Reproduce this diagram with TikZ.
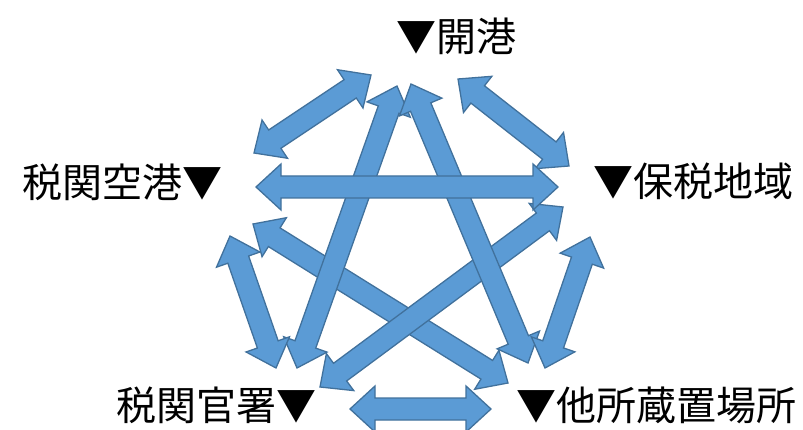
\documentclass[tikz,border=0pt]{standalone}
\usepackage{fontspec}
\newfontfamily\jp{Noto Sans CJK JP}
\usetikzlibrary{calc}
\definecolor{arrfill}{HTML}{5B9BD5}
\definecolor{arrline}{HTML}{41719C}
\tikzset{
  arr/.style={fill=arrfill, draw=arrline, line width=1.3pt, line join=miter},
  lbl/.style={font=\jp\fontsize{40}{48}\selectfont, inner sep=0pt, anchor=center}
}
% double-headed block arrow between two named coordinates
\newcommand\blockarrow[2]{%
  \coordinate (ha) at ($(#1)!25pt!(#2)$);
  \coordinate (hb) at ($(#2)!25pt!(#1)$);
  \draw[arr] (#1) -- ($(ha)!23pt!90:(#2)$) -- ($(ha)!11pt!90:(#2)$)
    -- ($(hb)!11pt!-90:(#1)$) -- ($(hb)!23pt!-90:(#1)$) -- (#2)
    -- ($(hb)!23pt!90:(#1)$) -- ($(hb)!11pt!90:(#1)$)
    -- ($(ha)!11pt!-90:(#2)$) -- ($(ha)!23pt!-90:(#2)$) -- cycle;
}
\begin{document}
\begin{tikzpicture}[x=1pt,y=-1pt]
\useasboundingbox (0,0) rectangle (803,430);
% labels
\node[lbl] (kaiko) at (456,36) {▼開港};
\node[lbl] (zeikuko) at (122,182) {税関空港▼};
\node[lbl] (hozei) at (693,181) {▼保税地域};
\node[lbl] (kansho) at (216,405) {税関官署▼};
\node[lbl] (tasho) at (656,405) {▼他所蔵置場所};
% arrow tips
\coordinate (a1s) at (371,75);  \coordinate (a1e) at (254,153);
\coordinate (a2s) at (458,79);  \coordinate (a2e) at (569,166);
\coordinate (a3s) at (256,187); \coordinate (a3e) at (558,187);
\coordinate (a4s) at (397,86);  \coordinate (a4e) at (297,368);
\coordinate (a5s) at (411,84);  \coordinate (a5e) at (528,363);
\coordinate (a6s) at (253,224); \coordinate (a6e) at (508,383);
\coordinate (a7s) at (563,207); \coordinate (a7e) at (320,387);
\coordinate (a8s) at (230,236); \coordinate (a8e) at (276,368);
\coordinate (a9s) at (590,237); \coordinate (a9e) at (545,368);
\coordinate (a10s) at (350,409); \coordinate (a10e) at (491,409);
% arrows
\blockarrow{a6s}{a6e}
\blockarrow{a7s}{a7e}
\blockarrow{a4s}{a4e}
\blockarrow{a5s}{a5e}
\blockarrow{a8s}{a8e}
\blockarrow{a9s}{a9e}
\blockarrow{a1s}{a1e}
\blockarrow{a2s}{a2e}
\blockarrow{a3s}{a3e}
\blockarrow{a10s}{a10e}
\end{tikzpicture}
\end{document}
